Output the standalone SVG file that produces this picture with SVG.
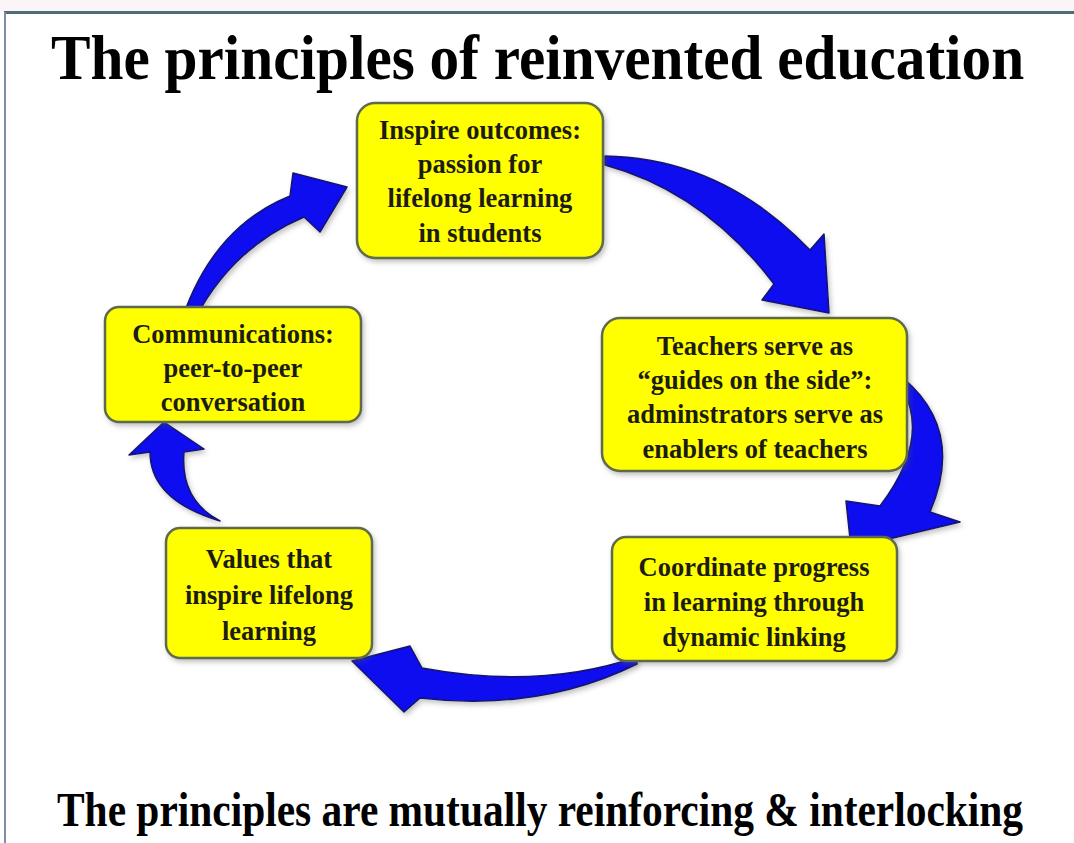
<svg xmlns="http://www.w3.org/2000/svg" width="1074" height="843" viewBox="0 0 1074 843">
  <defs>
    <filter id="soft" x="-20%" y="-20%" width="140%" height="140%">
      <feDropShadow dx="2" dy="3" stdDeviation="2.5" flood-color="#555" flood-opacity="0.35"/>
    </filter>
  </defs>
  <style>
    .box { fill: #ffff00; stroke: #5e6b4c; stroke-width: 2.5; filter: url(#soft); }
    .lbl { font-family: "Liberation Serif", "Times New Roman", serif; font-weight: bold; font-size: 26.5px; fill: #1c1c14; text-anchor: middle; }
    .head { font-family: "Liberation Serif", "Times New Roman", serif; font-weight: bold; fill: #000; }
    .arrow { fill: #0808f0; stroke: #16166a; stroke-width: 1.5; stroke-linejoin: round; filter: url(#soft); }
  </style>

  <!-- page background and frame -->
  <rect x="0" y="0" width="1074" height="843" fill="#ffffff"/>
  <rect x="0" y="0" width="1074" height="11" fill="#fcf5f8"/>
  <line x1="4" y1="12.5" x2="1074" y2="12.5" stroke="#4d6b78" stroke-width="3"/>
  <line x1="5" y1="12" x2="5" y2="843" stroke="#7f8ea6" stroke-width="2"/>

  <!-- headings (horizontally condensed) -->
  <text class="head" font-size="64" transform="translate(51 79) scale(0.926 1)">The principles of reinvented education</text>
  <text class="head" font-size="49" transform="translate(57 826) scale(0.845 1)">The principles are mutually reinforcing &amp; interlocking</text>

  <!-- curved block arrows -->
  <g id="connectors">
    <path class="arrow" d="M 605 156 Q 722 158 810 250 L 824 234 L 829 313 L 762 300 L 774 284 Q 704 192 605 165 Z"/>
    <path class="arrow" d="M 903 378 Q 965 430 930 512 L 960 522 L 851 548 L 846 501 L 880 506 Q 930 440 903 390 Z"/>
    <path class="arrow" d="M 637 657 Q 540 690 422 668 L 410 646 L 352 661 L 404 712 L 420 698 Q 540 712 637 664 Z"/>
    <path class="arrow" d="M 220 521 Q 150 500 150 452 L 129 455 L 164 422 L 204 449 L 184 452 Q 180 500 220 521 Z"/>
    <path class="arrow" d="M 186 308 Q 218 225 290 196 L 293 173 L 347 187 L 320 232 L 304 217 Q 238 245 201 308 Z"/>
  </g>

  <!-- principle boxes -->
  <g id="inspire">
    <rect class="box" x="357" y="103" width="246" height="155" rx="18"/>
    <text class="lbl" x="480" y="139">Inspire outcomes:</text>
    <text class="lbl" x="480" y="173">passion for</text>
    <text class="lbl" x="480" y="207">lifelong learning</text>
    <text class="lbl" x="480" y="242">in students</text>
  </g>
  <g id="teachers">
    <rect class="box" x="602" y="318" width="305" height="153" rx="18"/>
    <text class="lbl" x="755" y="355">Teachers serve as</text>
    <text class="lbl" x="755" y="389">“guides on the side”:</text>
    <text class="lbl" x="755" y="423">adminstrators serve as</text>
    <text class="lbl" x="755" y="458">enablers of teachers</text>
  </g>
  <g id="coordinate">
    <rect class="box" x="612" y="537" width="285" height="124" rx="14"/>
    <text class="lbl" x="754" y="576">Coordinate progress</text>
    <text class="lbl" x="754" y="611">in learning through</text>
    <text class="lbl" x="754" y="646">dynamic linking</text>
  </g>
  <g id="values">
    <rect class="box" x="166" y="528" width="206" height="130" rx="14"/>
    <text class="lbl" x="269" y="568">Values that</text>
    <text class="lbl" x="269" y="604">inspire lifelong</text>
    <text class="lbl" x="269" y="640">learning</text>
  </g>
  <g id="communications">
    <rect class="box" x="105" y="307" width="256" height="115" rx="14"/>
    <text class="lbl" x="233" y="343">Communications:</text>
    <text class="lbl" x="233" y="377">peer-to-peer</text>
    <text class="lbl" x="233" y="411">conversation</text>
  </g>
</svg>
